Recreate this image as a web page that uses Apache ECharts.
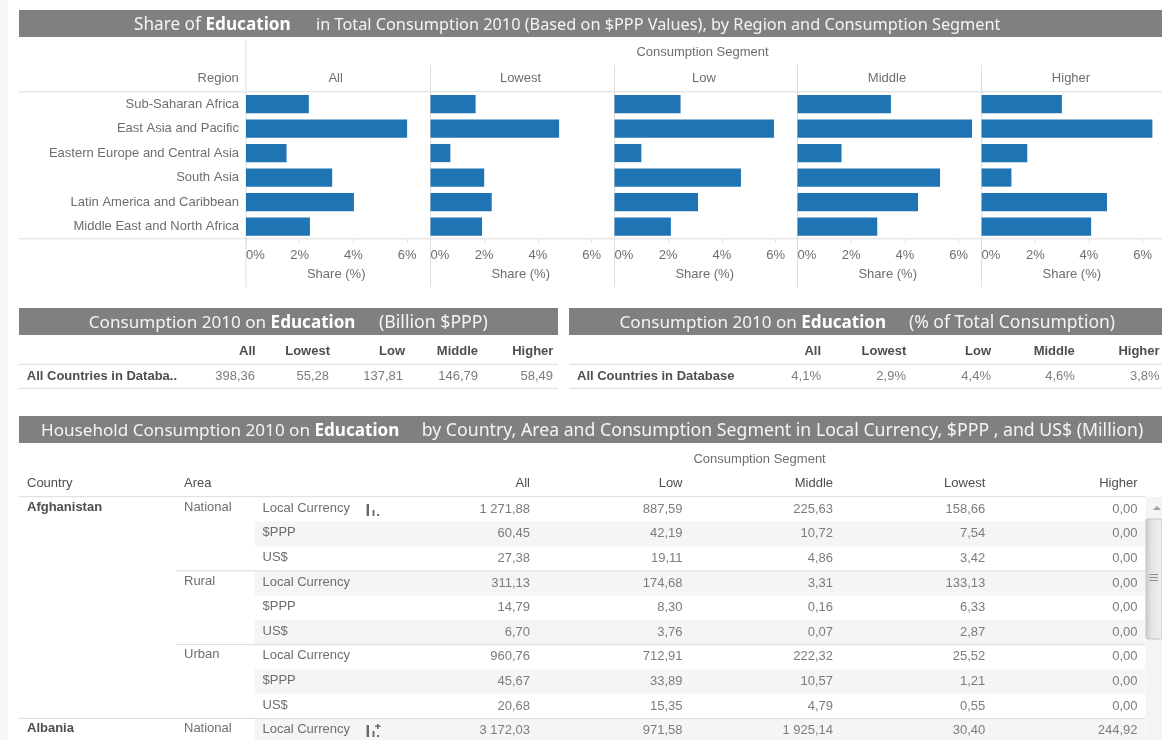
<!DOCTYPE html>
<html>
<head>
<meta charset="utf-8">
<style>html,body{margin:0;padding:0;background:#fff}#c{width:1162px;height:740px}</style>
<script src="https://cdn.jsdelivr.net/npm/echarts@6/dist/echarts.min.js"></script>
</head>
<body>
<div id="c"></div>
<script>
// Education share of consumption, by region and segment
const regions = ['Sub-Saharan Africa','East Asia and Pacific','Eastern Europe and Central Asia','South Asia','Latin America and Caribbean','Middle East and North Africa'];
const segments = ['All','Lowest','Low','Middle','Higher'];
const shareAll = [2.34,6.0,1.51,3.21,4.02,2.38];
const shareLowest = [1.68,4.79,0.74,2.0,2.28,1.92];
const shareLow = [2.46,5.94,1.0,4.71,3.11,2.10];
const shareMiddle = [3.48,6.5,1.64,5.31,4.49,2.97];
const shareHigher = [2.99,6.36,1.70,1.11,4.67,4.08];
const axisTicks = [0,2,4,6];

// Summary tables
const summaryBillion = ['398,36','55,28','137,81','146,79','58,49'];
const summaryPercent = ['4,1%','2,9%','4,4%','4,6%','3,8%'];

// Country detail table
const detailColumns = ['All','Low','Middle','Lowest','Higher'];
const detailCountry = ['Afghanistan','','','','','','','','','Albania'];
const detailArea = ['National','','','Rural','','','Urban','','','National'];
const detailUnit = ['Local Currency','$PPP','US$','Local Currency','$PPP','US$','Local Currency','$PPP','US$','Local Currency'];
const detailAll = ['1 271,88','60,45','27,38','311,13','14,79','6,70','960,76','45,67','20,68','3 172,03'];
const detailLow = ['887,59','42,19','19,11','174,68','8,30','3,76','712,91','33,89','15,35','971,58'];
const detailMiddle = ['225,63','10,72','4,86','3,31','0,16','0,07','222,32','10,57','4,79','1 925,14'];
const detailLowest = ['158,66','7,54','3,42','133,13','6,33','2,87','25,52','1,21','0,55','30,40'];
const detailHigher = ['0,00','0,00','0,00','0,00','0,00','0,00','0,00','0,00','0,00','244,92'];

const shares = [shareAll,shareLowest,shareLow,shareMiddle,shareHigher];

const FONT = '"Liberation Sans", Arial, sans-serif';
const HEAD_FONT = '"Noto Sans", sans-serif';
const GREY = '#6e6e6e', DARK = '#4e4e4e', BODY = '#7c7c7c', RULE = '#dcdcdc', BAR = '#1f74b3';

// Layout of the five small-multiple panels
const panelLeft = [246,430.5,614.5,797.5,981.6];
const panelWidth = 180.4, pxPerUnit = 26.85;
const plotTop = 91.8, plotBottom = 238.8;

const g = [];
const rect = (x,y,w,h,fill,extra) => g.push(Object.assign({type:'rect',shape:{x,y,width:w,height:h},style:{fill},silent:true},extra||{}));
const line = (x1,y1,x2,y2,color) => g.push({type:'line',shape:{x1,y1,x2,y2},style:{stroke:color||RULE,lineWidth:1},silent:true});
const text = (x,y,str,o) => {
  o = o||{};
  g.push({type:'text',x,y,silent:true,style:{text:str,fill:o.fill||GREY,fontFamily:o.family||FONT,fontSize:o.size||13,fontWeight:o.weight||'normal',align:o.align||'left',verticalAlign:'middle'}});
};
// Grey section banner: a lead-in with the bold topic, then the qualifier
const banner = (x,y,w,h,lead,topic,tail,leadX,tailX,leadSize,tailSize) => {
  rect(x,y,w,h,'#808080');
  const cy = y + h/2 + 1.5;
  g.push({type:'text',x:leadX,y:cy,silent:true,style:{text:lead+'{b|'+topic+'}',fill:'#f4f4f4',fontFamily:HEAD_FONT,fontSize:leadSize,align:'left',verticalAlign:'middle',
    rich:{b:{fill:'#ffffff',fontFamily:HEAD_FONT,fontSize:leadSize,fontWeight:'bold'}}}});
  g.push({type:'text',x:tailX,y:cy,silent:true,style:{text:tail,fill:'#f4f4f4',fontFamily:HEAD_FONT,fontSize:tailSize,align:'left',verticalAlign:'middle'}});
};

// Page edge strip
rect(0,0,8,740,'#f6f6f6');

// Top section
banner(19,10,1143,27,'Share of ','Education','in Total Consumption 2010 (Based on $PPP Values), by Region and Consumption Segment',134,316,17.2,16.3);
text(702.5,52,'Consumption Segment',{align:'center'});
text(238.8,78,'Region',{align:'right'});
line(19,plotTop,1162,plotTop);
line(19,plotBottom,1162,plotBottom);
line(246,40,246,287);
panelLeft.slice(1).forEach(x => line(x,65,x,287));
const headCenter = [335.6,520.5,704,887,1071];
segments.forEach((s,i) => text(headCenter[i],78,s,{align:'center'}));

// Summary tables
const summary = (bx,bw,tail,leadX,tailX,tailSize,label,labelX,colX,vals,valX) => {
  banner(bx,308,bw,27,'Consumption 2010 on ','Education',tail,leadX,tailX,17.1,tailSize);
  line(bx,364.3,bx+bw,364.3);
  line(bx,388.3,bx+bw,388.3);
  segments.forEach((s,i) => text(colX[i],351,s,{align:'right',weight:'bold',fill:DARK}));
  text(labelX,376,label,{weight:'bold',fill:DARK});
  vals.forEach((v,i) => text(valX[i],376.5,v,{align:'right',fill:BODY}));
};
summary(19,539,'(Billion $PPP)',88.8,379,17.7,'All Countries in Databa..',26.8,[255.6,330,405,478,553.4],summaryBillion,[255,329,403,478,553]);
summary(569,593,'(% of Total Consumption)',619.5,909,17.5,'All Countries in Database',577,[821,906.3,991,1074.8,1159.6],summaryPercent,[821,906,991,1074.8,1159.6]);

// Country detail table
banner(19,416,1143,27,'Household Consumption 2010 on ','Education','by Country, Area and Consumption Segment in Local Currency, $PPP , and US$ (Million)',41,421.7,17.1,17.7);
text(759.6,459,'Consumption Segment',{align:'center'});
text(27,483,'Country',{fill:DARK});
text(184,483,'Area',{fill:DARK});
const detailRight = [530,682.5,833,985.3,1137.5];
detailColumns.forEach((c,i) => text(detailRight[i],483,c,{align:'right',fill:DARK}));
line(19,496.7,1145,496.7);

const rowTop = 497, rowH = 24.6;
detailUnit.forEach((u,r) => {
  const y = rowTop + r*rowH;
  if (r % 2 === 1) rect(254.5,y,890.5,rowH,'#f5f5f5');
  if (r === 3 || r === 6) line(176,y,1145,y);
  if (r === 9) line(19,y,1145,y);
});
detailUnit.forEach((u,r) => {
  const y = rowTop + r*rowH + rowH/2;
  if (detailCountry[r]) text(27,y-2,detailCountry[r],{weight:'bold',fill:DARK});
  if (detailArea[r]) text(184,y-2,detailArea[r]);
  text(262.5,y-1,u);
  [detailAll,detailLow,detailMiddle,detailLowest,detailHigher].forEach((col,c) =>
    text(detailRight[c],y,col[r],{align:'right',fill:BODY}));
});

// Small drill-down glyphs beside the currency rows
const glyph = (x,base) => {
  rect(x,base-12,2.4,12,'#666');
  rect(x+6,base-6,1.8,6,'#666');
  rect(x+10.5,base-2,2,2,'#666');
};
glyph(366.6,516);
glyph(366.6,737);
rect(377,724,1.6,5,'#666');
rect(375,725.5,5.6,1.4,'#666');

// Scrollbar along the detail table
rect(1145.5,497,16.5,243,'#f4f4f4');
g.push({type:'polygon',shape:{points:[[1153,510],[1157,506],[1161,510]]},style:{fill:'#a0a0a0'},silent:true});
g.push({type:'rect',shape:{x:1146,y:519,width:16,height:120,r:2},silent:true,style:{stroke:'#c4c4c4',lineWidth:1,
  fill:{type:'linear',x:0,y:0,x2:1,y2:0,colorStops:[{offset:0,color:'#c9c9c9'},{offset:0.35,color:'#e4e4e4'},{offset:1,color:'#f0f0f0'}]}}});
[574.5,577.5,580.5].forEach(y => line(1149.5,y,1158,y,'#8d8d8d'));

const grids = [], xAxes = [], yAxes = [], series = [];
shares.forEach((vals,i) => {
  grids.push({left:panelLeft[i],top:plotTop,width:panelWidth,height:plotBottom-plotTop,containLabel:false});
  xAxes.push({
    type:'value',gridIndex:i,min:0,max:panelWidth/pxPerUnit,interval:2,
    name:'Share (%)',nameLocation:'middle',nameGap:29,
    nameTextStyle:{color:GREY,fontFamily:FONT,fontSize:13},
    axisLine:{show:false},splitLine:{show:false},
    axisTick:{show:true,length:4,lineStyle:{color:RULE},customValues:axisTicks},
    axisLabel:{color:GREY,fontFamily:FONT,fontSize:13,margin:10,formatter:'{value}%',customValues:axisTicks,alignMinLabel:'left',hideOverlap:false}
  });
  yAxes.push({
    type:'category',gridIndex:i,inverse:true,data:regions,
    axisLine:{show:false},axisTick:{show:false},splitLine:{show:false},
    axisLabel:i===0?{show:true,color:GREY,fontFamily:FONT,fontSize:13,margin:7,padding:[0,0,4,0],interval:0}:{show:false}
  });
  series.push({
    type:'bar',name:segments[i],xAxisIndex:i,yAxisIndex:i,data:vals,barWidth:18.2,
    itemStyle:{color:BAR},silent:true,animation:false
  });
});

const chart = echarts.init(document.getElementById('c'),null,{width:1162,height:740});
chart.setOption({
  animation:false,
  backgroundColor:'#fff',
  grid:grids,xAxis:xAxes,yAxis:yAxes,series,
  graphic:{elements:g}
});
</script>
</body>
</html>
